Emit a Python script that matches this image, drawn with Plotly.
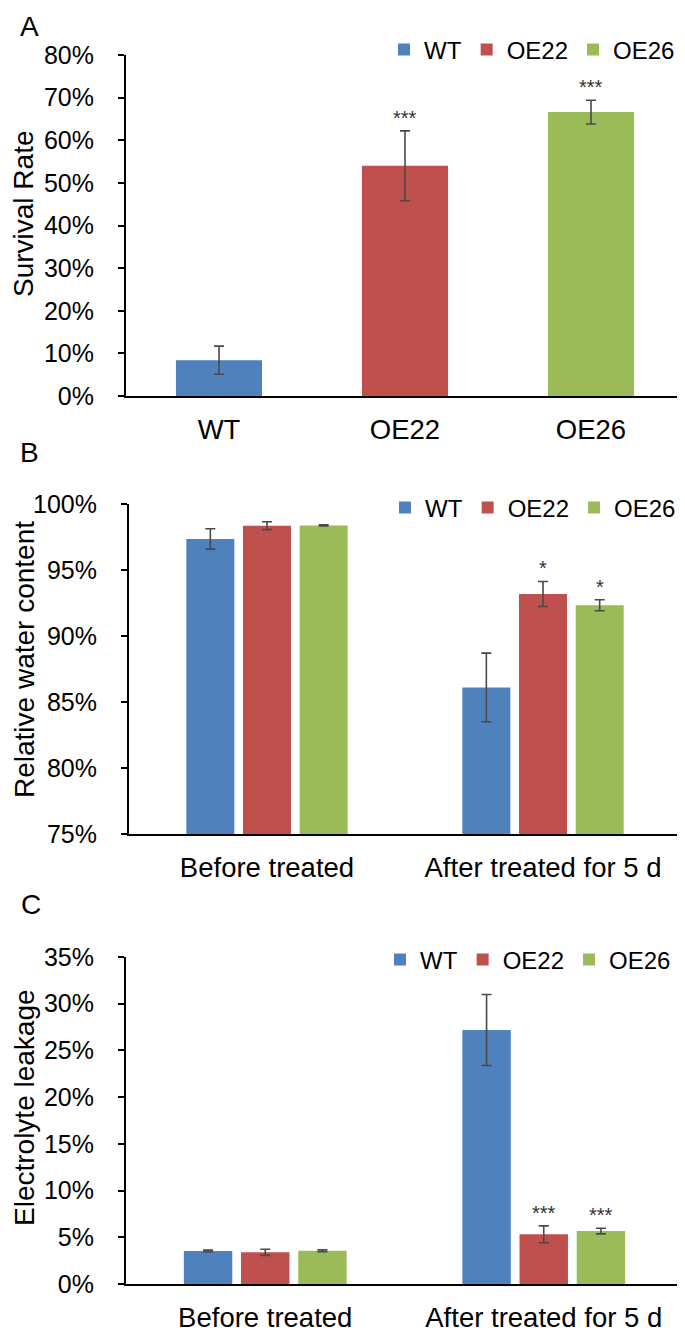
import plotly.graph_objects as go

# ---------------- data ----------------
genotypes = ["WT", "OE22", "OE26"]
colors = ["#4F81BD", "#C0504D", "#9BBB59"]

# Panel A: survival rate (%)
survival = [8.4, 54.0, 66.6]
survival_err = [3.3, 8.2, 2.8]
survival_sig = ["", "***", "***"]

# Panels B, C categories
stages = ["Before treated", "After treated for 5 d"]

# Panel B: relative water content (%)
rwc_wt = [97.35, 86.1]
rwc_oe22 = [98.36, 93.18]
rwc_oe26 = [98.38, 92.33]
rwc_wt_err = [0.77, 2.6]
rwc_oe22_err = [0.3, 0.95]
rwc_oe26_err = [0.05, 0.42]
rwc_wt_sig = ["", ""]
rwc_oe22_sig = ["", "*"]
rwc_oe26_sig = ["", "*"]

# Panel C: electrolyte leakage (%)
el_wt = [3.53, 27.19]
el_oe22 = [3.39, 5.32]
el_oe26 = [3.57, 5.67]
el_wt_err = [0.1, 3.8]
el_oe22_err = [0.33, 0.9]
el_oe26_err = [0.1, 0.3]
el_wt_sig = ["", ""]
el_oe22_sig = ["", "***"]
el_oe26_sig = ["", "***"]

panel_a_ticks = list(range(0, 81, 10))
panel_b_ticks = list(range(75, 101, 5))
panel_c_ticks = list(range(0, 36, 5))

# ---------------- style ----------------
FONT = "Liberation Sans, Arial, sans-serif"
PAGE_OFF = 8            # default page margin of the html body
W, H = 685 - PAGE_OFF, 1332 - PAGE_OFF
BARGAP = 0.384
BARGROUPGAP = 0.153
A_WIDTH = 0.463
ERR_COLOR = "#4a4a4a"
STAR_COLOR = "#333333"


def fx(px):
    return (px - PAGE_OFF) / W


def fy(px):
    return 1 - (px - PAGE_OFF) / H


fig = go.Figure()


def err(arr):
    return dict(type="data", array=arr, visible=True, color=ERR_COLOR,
                thickness=1.6, width=5)


# Panel A
for i, g in enumerate(genotypes):
    fig.add_trace(go.Bar(
        x=[genotypes[i]], y=[survival[i]], error_y=err([survival_err[i]]),
        name=g, marker=dict(color=colors[i], line=dict(width=0)),
        width=A_WIDTH, offset=-A_WIDTH / 2,
        xaxis="x", yaxis="y", legend="legend", offsetgroup="a"))

# Panel B
b_vals = [rwc_wt, rwc_oe22, rwc_oe26]
b_errs = [rwc_wt_err, rwc_oe22_err, rwc_oe26_err]
b_sigs = [rwc_wt_sig, rwc_oe22_sig, rwc_oe26_sig]
for i, g in enumerate(genotypes):
    fig.add_trace(go.Bar(
        x=stages, y=b_vals[i], error_y=err(b_errs[i]), name=g,
        marker=dict(color=colors[i], line=dict(width=0)),
        xaxis="x2", yaxis="y2", legend="legend2"))

# Panel C
c_vals = [el_wt, el_oe22, el_oe26]
c_errs = [el_wt_err, el_oe22_err, el_oe26_err]
c_sigs = [el_wt_sig, el_oe22_sig, el_oe26_sig]
for i, g in enumerate(genotypes):
    fig.add_trace(go.Bar(
        x=stages, y=c_vals[i], error_y=err(c_errs[i]), name=g,
        marker=dict(color=colors[i], line=dict(width=0)),
        xaxis="x3", yaxis="y3", legend="legend3"))

annotations = []
# significance stars
for i in range(3):
    if survival_sig[i]:
        annotations.append(dict(x=genotypes[i], y=survival[i] + survival_err[i],
                                xref="x", yref="y", text=survival_sig[i],
                                showarrow=False, yanchor="bottom",
                                font=dict(size=20, color=STAR_COLOR, family=FONT)))
slot = (1 - BARGAP) / 3
for vals, errs, sigs, xr, yr in [(b_vals, b_errs, b_sigs, "x2", "y2"),
                                 (c_vals, c_errs, c_sigs, "x3", "y3")]:
    for i in range(3):
        for j in range(len(stages)):
            if sigs[i][j]:
                annotations.append(dict(x=j + (i - 1) * slot, y=vals[i][j] + errs[i][j],
                                        xref=xr, yref=yr, text=sigs[i][j],
                                        showarrow=False, yanchor="bottom",
                                        font=dict(size=20, color=STAR_COLOR, family=FONT)))

# panel letters and y titles
for letter, xc, yc in [("A", 30, 26), ("B", 30, 452), ("C", 31, 904)]:
    annotations.append(dict(x=fx(xc), y=fy(yc), xref="paper", yref="paper",
                            text=letter, showarrow=False, xanchor="center",
                            yanchor="middle", font=dict(size=28, color="black", family=FONT)))
for title, xc, yc in [("Survival Rate", 24, 214), ("Relative water content", 24, 660),
                      ("Electrolyte leakage", 24, 1108)]:
    annotations.append(dict(x=fx(xc), y=fy(yc), xref="paper", yref="paper",
                            text=title, textangle=-90, showarrow=False,
                            xanchor="center", yanchor="middle",
                            font=dict(size=28, color="black", family=FONT)))


def xax(dom, anchor):
    return dict(domain=dom, anchor=anchor, type="category", showline=True,
                linecolor="black", linewidth=2, ticks="", showgrid=False,
                zeroline=False, tickfont=dict(size=27.5, color="black", family=FONT),
                ticklabelstandoff=8, fixedrange=True)


def yax(dom, anchor, rng, ticks):
    return dict(domain=dom, anchor=anchor, range=rng, tickvals=ticks,
                ticktext=[f"{t}%" for t in ticks], showline=True,
                linecolor="black", linewidth=2, ticks="outside", ticklen=6,
                tickwidth=1.5, tickcolor="black", showgrid=False, zeroline=False,
                tickfont=dict(size=25, color="black", family=FONT),
                ticklabelstandoff=19, fixedrange=True)


def legend_at(xl, yc):
    return dict(orientation="h", x=fx(xl), xanchor="left", y=fy(yc), yanchor="middle",
                xref="paper", yref="paper", bgcolor="rgba(0,0,0,0)",
                font=dict(size=24, color="black", family=FONT), itemclick=False)


fig.update_layout(
    width=W, height=H, margin=dict(l=0, r=0, t=0, b=0, autoexpand=False),
    paper_bgcolor="white", plot_bgcolor="white",
    barmode="group", bargap=BARGAP, bargroupgap=BARGROUPGAP,
    font=dict(family=FONT, color="black"),
    xaxis=xax([fx(126), fx(684)], "y"),
    yaxis=yax([fy(396), fy(55)], "x", [0, 80], panel_a_ticks),
    xaxis2=xax([fx(129), fx(681)], "y2"),
    yaxis2=yax([fy(834), fy(504)], "x2", [75, 100], panel_b_ticks),
    xaxis3=xax([fx(126), fx(683)], "y3"),
    yaxis3=yax([fy(1284), fy(957)], "x3", [0, 35], panel_c_ticks),
    legend=legend_at(384, 50),
    legend2=legend_at(385, 508),
    legend3=legend_at(380, 960),
    annotations=annotations,
    showlegend=True,
)

fig.write_html("out.html")
